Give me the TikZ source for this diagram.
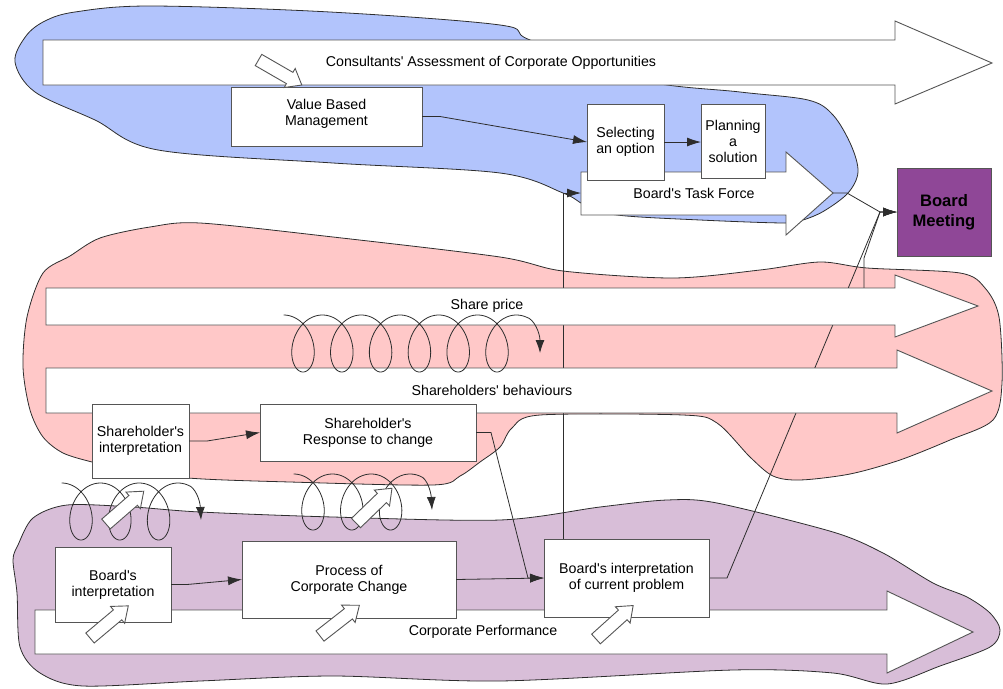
\documentclass[tikz,border=0pt]{standalone}
\usepackage{fontspec}
\setmainfont{Liberation Sans}
\usetikzlibrary{arrows.meta,calc}

\definecolor{blobblue}{RGB}{178,196,252}
\definecolor{blobpink}{RGB}{255,200,200}
\definecolor{blobpurple}{RGB}{216,190,216}
\definecolor{meetingpurple}{RGB}{143,71,151}
\definecolor{edgegray}{RGB}{85,85,85}
\definecolor{inkgray}{RGB}{45,45,45}

% straight apostrophe
\newcommand{\ap}{\textquotesingle}

\tikzset{
  blob/.style={draw=inkgray, line width=0.8pt},
  flow/.style={draw=edgegray, fill=white, line width=0.9pt, line join=miter},
  flowlabel/.style={font=\fontsize{14.2}{16}\selectfont, inner sep=0pt},
  box/.style={draw=edgegray, fill=white, line width=0.9pt, align=center,
    inner sep=0pt, outer sep=0pt, font=\fontsize{14.2}{16}\selectfont},
  meeting/.style={draw=edgegray, fill=meetingpurple, line width=0.9pt, align=center,
    inner sep=0pt, outer sep=0pt, font=\bfseries\fontsize{16.6}{20}\selectfont},
  conn/.style={draw=inkgray, line width=0.8pt, -{Latex[length=14pt,width=9pt]}},
  coilline/.style={draw=inkgray, line width=0.8pt, -{Latex[length=13pt,width=9pt]}},
  hollowarrow/.pic={\draw[flow] (0,-6.5)--(36,-6.5)--(36,-11)--(50,0)--(36,11)--(36,6.5)--(0,6.5)--cycle;}
}

\begin{document}
\begin{tikzpicture}[x=1pt,y=-1pt]
\useasboundingbox (0,0) rectangle (1003,688);

% ---- coloured regions ----
\filldraw[blob, fill=blobblue] plot[smooth cycle, tension=0.55] coordinates {
  (15,62) (26,36) (45,21) (75,12) (150,6) (330,12) (500,25) (530,40) (640,80)
  (740,92) (808,100) (833,115) (851,145) (858,172) (848,193) (824,211) (803,220)
  (785,223) (700,220) (617,215) (585,205) (563,193) (500,173) (333,163) (158,150)
  (95,120) (35,92)};

\filldraw[blob, fill=blobpink] plot[smooth cycle, tension=0.5] coordinates {
  (70,256) (100,238) (150,227) (200,223) (333,237) (500,257) (563,271) (673,278)
  (760,270) (820,262) (867,268) (960,273) (985,288) (999,317) (1002,383) (993,420)
  (950,440) (900,460) (850,474) (800,480) (773,476) (750,457) (717,423) (683,415)
  (540,415) (512,428) (500,447) (480,462) (460,476) (433,485) (290,482) (188,478)
  (120,468) (92,462) (63,453) (43,437) (30,410) (23,367) (27,317) (43,273)};

\filldraw[blob, fill=blobpurple] plot[smooth cycle, tension=0.5] coordinates {
  (33,518) (67,505) (133,507) (200,512) (333,517) (500,520) (600,507) (667,500)
  (717,503) (833,532) (883,553) (933,583) (967,597) (990,613) (1000,630) (990,647)
  (940,666) (887,684) (833,673) (733,670) (500,681) (333,676) (200,681) (83,686)
  (40,673) (20,647) (17,593) (13,560) (18,545)};

% ---- anchor points on the flow arrows ----
\coordinate (tftail) at (581,193);
\coordinate (tfhead) at (833,193);
\coordinate (bmjoin) at (880,212);
\coordinate (sptop) at (864,300);

% ---- boxes ----
\node[meeting, minimum width=94pt, minimum height=88pt] (bm) at (944,212) {Board\\Meeting};

% connectors running behind the flow arrows
\node[box, minimum width=165pt, minimum height=78pt] (cur) at (626.5,578) {Board\ap s interpretation\\of current problem};
\draw[conn] ($(cur.north west)+(19,0)$) |- (tftail);
\draw[conn] (cur.east) -- ++(18,0) -- (bmjoin) -- (bm.west);
\draw[conn] (sptop) -- (864,258) -- (bmjoin) -- (bm.west);

% ---- flow arrows ----
\draw[flow] (43,40) -- (895,40) -- (895,21) -- (992,63) -- (895,104) -- (895,85) -- (43,85) -- cycle;
\draw[flow] (581,172) -- (786,172) -- (786,152) -- (833,193) -- (786,235) -- (786,215) -- (581,215) -- cycle;
\draw[flow] (46,288) -- (895,288) -- (895,275) -- (978,306) -- (895,337) -- (895,325) -- (46,325) -- cycle;
\draw[flow] (46,368) -- (897,368) -- (897,350) -- (992,391) -- (897,433) -- (897,413) -- (46,413) -- cycle;
\draw[flow] (35,610) -- (887,610) -- (887,591) -- (973,632) -- (887,673) -- (887,654) -- (35,654) -- cycle;

\node[flowlabel] (consl) at (491,63) {Consultants\ap\ Assessment of Corporate Opportunities};
\node[flowlabel] (tfl) at (694,193) {Board\ap s Task Force};
\node[flowlabel] (spl) at (487,306) {Share price};
\node[flowlabel] (shbl) at (492,390) {Shareholders\ap\ behaviours};
\node[flowlabel] (cpl) at (483,632) {Corporate Performance};

\draw[conn] (tfhead) -- ++(14,0) -- (bmjoin) -- (bm.west);

% ---- coils ----
\coordinate (coilA) at (540,353);
\coordinate (coilB) at (201,520);
\coordinate (coilC) at (432,510);
\draw[coilline] plot[domain=0:38.099, samples=480, variable=\t]
  ({283.6+6.175*\t+20*sin(\t r)},{343.5-28.5*cos(\t r)})
  .. controls (534,319) and (540,333) .. (coilA);
\draw[coilline] plot[domain=0:19.2496, samples=260, variable=\t]
  ({61.6+6.175*\t+20*sin(\t r)},{511.5-28.5*cos(\t r)})
  .. controls (195,487) and (200,500) .. (coilB);
\draw[coilline] plot[domain=0:19.2496, samples=260, variable=\t]
  ({293.6+6.175*\t+20*sin(\t r)},{502-28*cos(\t r)})
  .. controls (427,478) and (431,492) .. (coilC);

% ---- remaining boxes ----
\node[box, minimum width=191pt, minimum height=59pt] (vbm) at (326.5,116.5) {Value Based\\Management\\[-8pt]};
\node[box, minimum width=77pt, minimum height=76pt] (sel) at (625.5,142) {Selecting\\an option};
\node[box, minimum width=64pt, minimum height=74pt] (plan) at (733,141) {Planning\\a\\solution};
\node[box, minimum width=97pt, minimum height=74pt] (shi) at (140.5,441) {Shareholder\ap s\\interpretation};
\node[box, minimum width=216pt, minimum height=57pt] (resp) at (368,432.5) {Shareholder\ap s\\Response to change};
\node[box, minimum width=116pt, minimum height=75pt] (bi) at (113,584.5) {Board\ap s\\interpretation};
\node[box, minimum width=214pt, minimum height=77pt] (proc) at (349,579.5) {Process of\\Corporate Change};
\node[box, minimum width=165pt, minimum height=78pt] (cur) at (626.5,578) {Board\ap s interpretation\\of current problem};

% ---- connectors between boxes ----
\draw[conn] (vbm.east) -- ++(18,0) -- (sel.west);
\draw[conn] (sel.east) -- (sel.east -| plan.west);
\draw[conn] (shi.east) -- ++(18,0) -- (resp.west);
\draw[conn] (resp.east) -- ++(15,0) -- ($(cur.west)+(-16,0)$) -- (cur.west);
\draw[conn] (bi.east) -- ++(16,0) -- (proc.west);
\draw[conn] (proc.east) -- (cur.west);

% ---- hollow pointer arrows ----
\pic[rotate=-30] at (258.5,60) {hollowarrow};
\pic[rotate=41] at (106,524) {hollowarrow};
\pic[rotate=44] at (356,523) {hollowarrow};
\pic[rotate=40] at (90,638) {hollowarrow};
\pic[rotate=38] at (320,636) {hollowarrow};
\pic[rotate=42] at (596,639) {hollowarrow};
\end{tikzpicture}
\end{document}
